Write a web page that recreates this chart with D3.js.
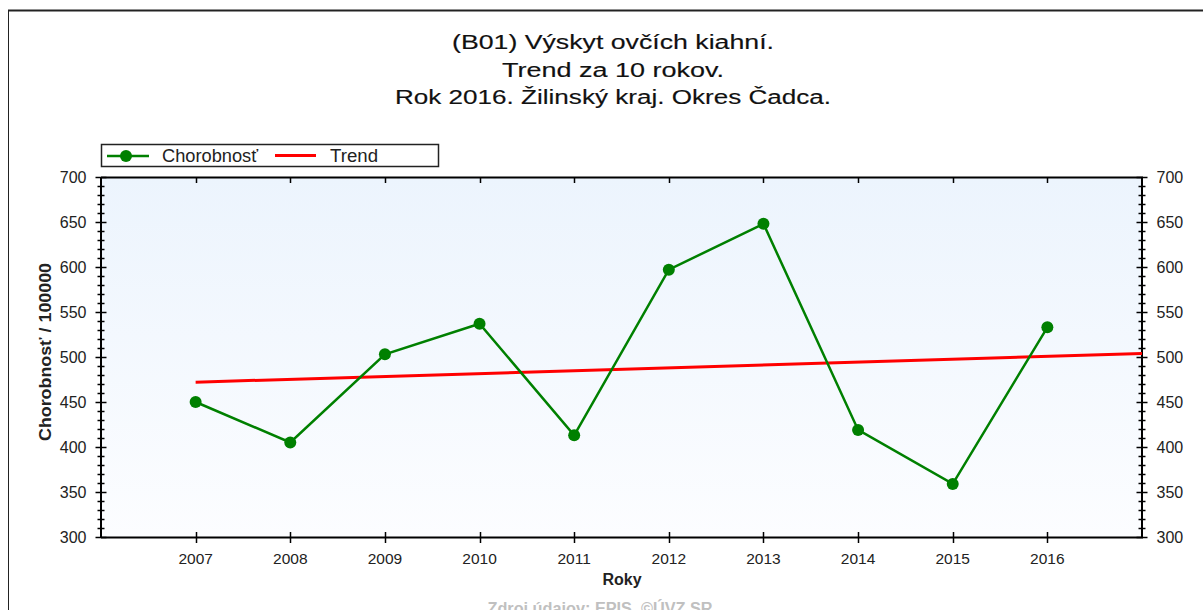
<!DOCTYPE html>
<html><head><meta charset="utf-8">
<script src="https://cdn.jsdelivr.net/npm/d3@7"></script>
<style>
html,body{margin:0;padding:0;background:#fff;overflow:hidden}
svg{display:block;font-family:"Liberation Sans",Arial,sans-serif}
</style></head>
<body>
<script>
const years = [2007, 2008, 2009, 2010, 2011, 2012, 2013, 2014, 2015, 2016];
const values = [450, 405, 503, 537, 413, 597, 648, 419, 359, 533];
const trendYears = [2007, 2017];
const trendValues = [472, 504];
const yTicks = [300, 350, 400, 450, 500, 550, 600, 650, 700];
const titleLines = ["(B01) Výskyt ovčích kiahní.", "Trend za 10 rokov.", "Rok 2016. Žilinský kraj. Okres Čadca."];
const seriesNames = ["Chorobnosť", "Trend"];

const W = 1203, H = 610;
const svg = d3.select("body").append("svg").attr("width", W).attr("height", H);

const L = 101, R = 1142, T = 177, B = 537;
const x = d3.scaleLinear().domain([2006, 2017]).range([L, R]);
const y = d3.scaleLinear().domain([300, 700]).range([B, T]);

// outer frame
svg.append("line").attr("x1", 8).attr("x2", W).attr("y1", 10.5).attr("y2", 10.5).attr("stroke", "#222").attr("stroke-width", 2);
svg.append("line").attr("x1", 8.5).attr("x2", 8.5).attr("y1", 10).attr("y2", H).attr("stroke", "#222").attr("stroke-width", 1);

// title
const titleLens = [322, 222, 436];
const titleY = [49, 76.5, 104];
titleLines.forEach((t, i) => svg.append("text").attr("x", 613).attr("y", titleY[i])
  .attr("text-anchor", "middle").attr("font-size", 20).attr("fill", "#111")
  .attr("stroke", "#111").attr("stroke-width", 0.15)
  .attr("textLength", titleLens[i]).attr("lengthAdjust", "spacingAndGlyphs").text(t));

// background gradient
const defs = svg.append("defs");
const g = defs.append("linearGradient").attr("id", "bg").attr("x1", 0).attr("x2", 0).attr("y1", 0).attr("y2", 1);
g.append("stop").attr("offset", "0%").attr("stop-color", "#ecf4fd");
g.append("stop").attr("offset", "100%").attr("stop-color", "#fcfdff");
svg.append("rect").attr("x", L).attr("y", T).attr("width", R - L).attr("height", B - T).attr("fill", "url(#bg)");

// axes
const minor = d3.range(300, 701, 10).filter(v => v % 50 !== 0);
function yAxis(pos, side) {
  const gA = svg.append("g");
  gA.append("line").attr("x1", pos + 0.5).attr("x2", pos + 0.5).attr("y1", T).attr("y2", B + 1).attr("stroke", "#000").attr("stroke-width", 2);
  gA.selectAll(".mn").data(minor).join("line")
    .attr("x1", pos - 3).attr("x2", pos + 4).attr("y1", d => Math.round(y(d)) + 0.5).attr("y2", d => Math.round(y(d)) + 0.5)
    .attr("stroke", "#000").attr("stroke-width", 1.5);
  gA.selectAll(".mj").data(yTicks).join("line")
    .attr("x1", pos - 5).attr("x2", pos + 6).attr("y1", d => Math.round(y(d)) + 0.5).attr("y2", d => Math.round(y(d)) + 0.5)
    .attr("stroke", "#000").attr("stroke-width", 1.5);
  gA.selectAll("text").data(yTicks).join("text")
    .attr("x", side === "left" ? pos - 14 : pos + 15)
    .attr("y", d => y(d) + 6)
    .attr("text-anchor", side === "left" ? "end" : "start")
    .attr("font-size", 16).attr("fill", "#222").text(d => d);
}
yAxis(L - 0.5, "left");
yAxis(R - 0.5, "right");

// x axis bottom
const gx = svg.append("g");
gx.append("line").attr("x1", L).attr("x2", R + 1).attr("y1", B + 0.5).attr("y2", B + 0.5).attr("stroke", "#000").attr("stroke-width", 2);
gx.selectAll("line.t").data(years).join("line").attr("class", "t")
  .attr("x1", d => Math.round(x(d)) + 0.5).attr("x2", d => Math.round(x(d)) + 0.5)
  .attr("y1", B - 5).attr("y2", B + 6).attr("stroke", "#000").attr("stroke-width", 1.5);
gx.selectAll("text").data(years).join("text")
  .attr("x", d => x(d)).attr("y", 564).attr("text-anchor", "middle")
  .attr("font-size", 15.5).attr("fill", "#222").text(d => d);
// top axis
svg.append("line").attr("x1", L).attr("x2", R + 1).attr("y1", T + 0.5).attr("y2", T + 0.5).attr("stroke", "#000").attr("stroke-width", 2);
svg.selectAll("line.tt").data(years).join("line").attr("class", "tt")
  .attr("x1", d => Math.round(x(d)) + 0.5).attr("x2", d => Math.round(x(d)) + 0.5)
  .attr("y1", T).attr("y2", T + 6).attr("stroke", "#000").attr("stroke-width", 1.5);

// axis titles
svg.append("text").attr("x", 622).attr("y", 585).attr("text-anchor", "middle")
  .attr("font-size", 16).attr("font-weight", "bold").attr("fill", "#222").text("Roky");
svg.append("text").attr("transform", "translate(51,352) rotate(-90)").attr("text-anchor", "middle")
  .attr("font-size", 16).attr("font-weight", "bold").attr("fill", "#222")
  .attr("textLength", 178).attr("lengthAdjust", "spacingAndGlyphs").text("Chorobnosť / 100000");

// trend
svg.append("path").datum(trendYears.map((d, i) => [d, trendValues[i]]))
  .attr("d", d3.line().x(d => x(d[0])).y(d => y(d[1])))
  .attr("fill", "none").attr("stroke", "#ff0000").attr("stroke-width", 3);

// series
const data = years.map((d, i) => [d, values[i]]);
svg.append("path").datum(data)
  .attr("d", d3.line().x(d => x(d[0])).y(d => y(d[1])))
  .attr("fill", "none").attr("stroke", "#008000").attr("stroke-width", 2.5);
svg.selectAll("circle.pt").data(data).join("circle").attr("class", "pt")
  .attr("cx", d => x(d[0])).attr("cy", d => y(d[1])).attr("r", 6).attr("fill", "#008000");

// legend
const lg = svg.append("g");
lg.append("rect").attr("x", 101.5).attr("y", 144.5).attr("width", 337).attr("height", 22).attr("fill", "#fff").attr("stroke", "#222").attr("stroke-width", 1.5);
lg.append("line").attr("x1", 107).attr("x2", 149).attr("y1", 156).attr("y2", 156).attr("stroke", "#008000").attr("stroke-width", 2.5);
lg.append("circle").attr("cx", 126).attr("cy", 156).attr("r", 6).attr("fill", "#008000");
lg.append("text").attr("x", 162).attr("y", 162).attr("font-size", 18).attr("fill", "#222")
  .attr("textLength", 96).attr("lengthAdjust", "spacingAndGlyphs").text(seriesNames[0]);
lg.append("line").attr("x1", 275).attr("x2", 316).attr("y1", 155.5).attr("y2", 155.5).attr("stroke", "#ff0000").attr("stroke-width", 3);
lg.append("text").attr("x", 330).attr("y", 162).attr("font-size", 18).attr("fill", "#222")
  .attr("textLength", 48).attr("lengthAdjust", "spacingAndGlyphs").text(seriesNames[1]);

// source
svg.append("text").attr("x", 600).attr("y", 614).attr("text-anchor", "middle")
  .attr("font-size", 16).attr("font-weight", "bold").attr("fill", "#c0c0c0")
  .attr("textLength", 225).attr("lengthAdjust", "spacingAndGlyphs").text("Zdroj údajov: EPIS, ©ÚVZ SR");
</script>
</body></html>
